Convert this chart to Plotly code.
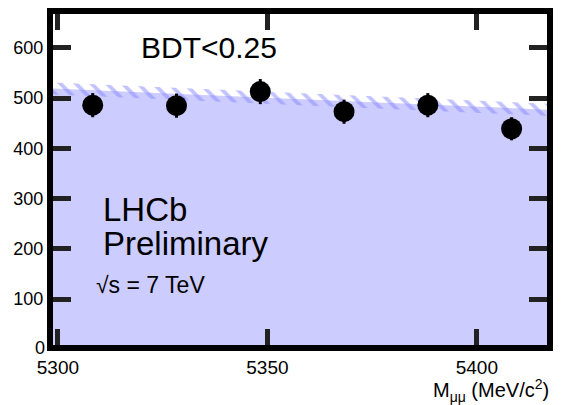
import plotly.graph_objects as go

# Dimuon invariant-mass bins and event counts for BDT < 0.25
mass = [5308.3, 5328.3, 5348.3, 5368.3, 5388.3, 5408.3]
counts = [486, 485, 513, 473, 486, 439]
count_err = [24, 24, 25, 24, 24, 23]

# Linear fit of the background and its uncertainty band
fit_x = [5298.82, 5416.75]
fit_y = [519, 477]
fit_err = 12

# Axis ranges and tick positions
x_range = [5298.82, 5416.75]
y_range = [8.7, 667.4]
x_major = [5300, 5350, 5400]
y_major = [100, 200, 300, 400, 500, 600]

FONT = "Liberation Sans, Arial, sans-serif"
FILL = "#ccccff"
HATCH = "#8585ff"
TICK = "#222222"

fig = go.Figure()

# Solid fill under the fit
fig.add_trace(go.Scatter(
    x=fit_x, y=fit_y, mode="lines", line=dict(width=0),
    fill="tozeroy", fillcolor=FILL, hoverinfo="skip", showlegend=False))

# Hatched error band around the fit
band_x = fit_x + fit_x[::-1]
band_y = [v + fit_err for v in fit_y] + [v - fit_err for v in fit_y[::-1]]
fig.add_trace(go.Scatter(
    x=band_x, y=band_y, mode="lines", line=dict(width=0),
    fill="toself", fillcolor="rgba(0,0,0,0)",
    fillpattern=dict(shape="\\", fgcolor=HATCH, bgcolor="rgba(0,0,0,0)",
                     size=11, solidity=0.35),
    hoverinfo="skip", showlegend=False))

# Data points
fig.add_trace(go.Scatter(
    x=mass, y=counts, mode="markers",
    marker=dict(size=21, color="black"),
    error_y=dict(type="data", array=count_err, color="black",
                 thickness=3, width=0),
    showlegend=False))

fig.update_xaxes(
    range=x_range, tickmode="array", tickvals=x_major,
    showgrid=False, zeroline=False, showline=True, linecolor="black",
    linewidth=6, mirror="ticks", ticks="inside", tickcolor=TICK,
    ticklen=16, tickwidth=5,
    tickfont=dict(family=FONT, size=19, color="black"))
fig.update_yaxes(
    range=y_range, tickmode="array", tickvals=y_major,
    showgrid=False, zeroline=False, showline=True, linecolor="black",
    linewidth=6, mirror="ticks", ticks="inside", tickcolor=TICK,
    ticklen=18, tickwidth=5,
    tickfont=dict(family=FONT, size=18, color="black"))

annotations = [
    dict(text="BDT<0.25", x=0.174, y=0.9, size=30),
    dict(text="LHCb", x=0.098, y=0.41, size=33),
    dict(text="Preliminary", x=0.098, y=0.307, size=33),
    dict(text="\u221As = 7 TeV", x=0.084, y=0.18, size=23),
]
for a in annotations:
    fig.add_annotation(
        text=a["text"], x=a["x"], y=a["y"], xref="paper", yref="paper",
        xanchor="left", yanchor="middle", showarrow=False,
        font=dict(family=FONT, size=a["size"], color="black"))

# Origin label and axis title
fig.add_annotation(text="0", x=-0.026, y=-0.01, xref="paper", yref="paper",
                   xanchor="center", yanchor="middle", showarrow=False,
                   font=dict(family=FONT, size=18, color="black"))
fig.add_annotation(text="M<sub>\u03bc\u03bc</sub> (MeV/c<sup>2</sup>)",
                   x=1.008, y=-0.137, xref="paper", yref="paper",
                   xanchor="right", yanchor="middle", showarrow=False,
                   font=dict(family=FONT, size=20, color="black"))

fig.update_layout(
    width=561, height=405,
    margin=dict(l=53, r=8, t=13, b=60),
    paper_bgcolor="white", plot_bgcolor="white",
)

fig.write_html("out.html")
